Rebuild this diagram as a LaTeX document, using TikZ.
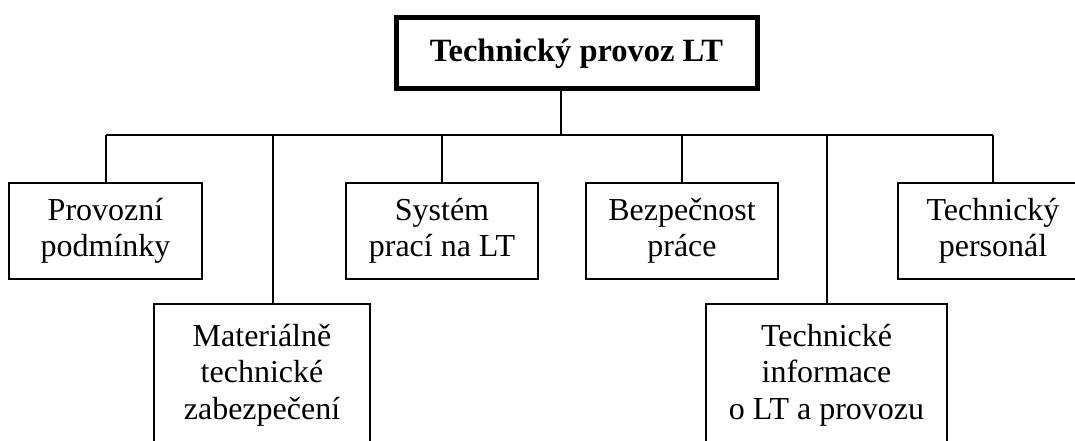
\documentclass[tikz,border=0pt]{standalone}
\usepackage{fontspec}
\setmainfont{Liberation Serif}
\begin{document}
\begin{tikzpicture}[x=1pt,y=-1pt,
  line width=2pt,
  txt/.style={font=\fontsize{32}{36.5}\selectfont, align=center, inner sep=0pt},
  unit/.style={txt, draw, anchor=north west, minimum width=#1},
  root/.style={draw, line width=5pt, inner sep=0pt,
    font=\fontsize{32.5}{36}\bfseries\selectfont},
  link/.style={line width=2pt}]
  \useasboundingbox (0,0) rectangle (1075,441);
  \clip (0,0) rectangle (1075,441);

  % head of the structure
  \node[root, minimum width=361pt, minimum height=71pt, anchor=north west]
    (root) at (393.5,15.5) {Technický provoz LT};

  % first row of units
  \node[unit=193pt, minimum height=96pt] (prov) at (8,182) {Provozní\\podmínky};
  \node[unit=192pt, minimum height=96pt] (sys)  at (345,182) {Systém\\prací na LT};
  \node[unit=192pt, minimum height=96pt] (bez)  at (585,182) {Bezpečnost\\práce};
  \node[unit=190pt, minimum height=96pt] (pers) at (897,182) {Technický\\personál};

  % second row of units
  \node[unit=216pt, minimum height=142pt] (mat) at (153,303)
    {Materiálně\\technické\\zabezpečení};
  \node[unit=241pt, minimum height=142pt] (info) at (705,303)
    {Technické\\informace\\o LT a provozu};

  % bus line and drops
  \coordinate (bus) at (561,135);
  \coordinate (matdrop) at (273,135);
  \draw[link] (root.south -| bus) -- (bus);
  \draw[link] (bus -| prov.north) -- (bus -| pers.north);
  \draw[link] (bus -| prov.north) -- (prov.north);
  \draw[link] (matdrop) -- (matdrop |- mat.north);
  \draw[link] (bus -| sys.north) -- (sys.north);
  \draw[link] (bus -| bez.north) -- (bez.north);
  \draw[link] (bus -| info.north) -- (info.north);
  \draw[link] (bus -| pers.north) -- (pers.north);
\end{tikzpicture}
\end{document}
